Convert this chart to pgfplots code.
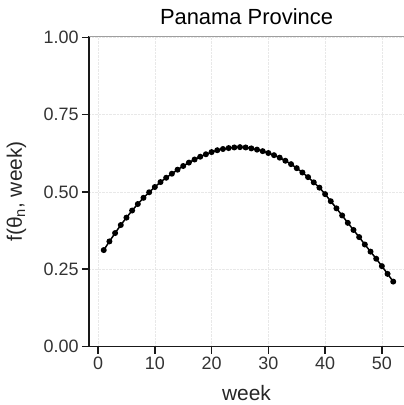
\documentclass[border=0pt]{standalone}
\usepackage{fontspec}
\setmainfont{Liberation Sans}
\usepackage{pgfplots}
\pgfplotsset{compat=1.18}
\begin{document}
\begin{tikzpicture}
\begin{axis}[
  at={(0,0)}, anchor=south west,
  scale only axis, width=315bp, height=310bp,
  xmin=-1.6, xmax=53.9, ymin=0, ymax=1.003,
  axis lines=left, axis line style={-, line width=1.8bp, black!90},
  xtick={0,10,...,50}, ytick={0,0.25,0.5,0.75,1},
  yticklabel style={/pgf/number format/.cd, fixed, fixed zerofill, precision=2},
  /pgf/number format/assume math mode=true,
  tick align=outside, major tick length=7bp,
  tick style={black!90, line width=1.6bp},
  grid=major, major grid style={densely dotted, gray!18, line width=0.6bp},
  ticklabel style={font=\fontsize{18}{21}\selectfont, text=black!80},
  xlabel={week}, ylabel={f(θ\textsubscript{n}, week)},
  label style={font=\fontsize{21}{24}\selectfont, text=black!85},
  xlabel style={at={(axis description cs:0.5,-0.1726)}, anchor=base},
  ylabel style={at={(axis description cs:-0.213,0.5)}, anchor=base},
  title={Panama Province},
  title style={font=\fontsize{22}{26}\selectfont, at={(axis description cs:0.5,1.019)}, anchor=base},
  clip=false,
]
\draw[gray!75, line width=1.4bp] (rel axis cs:0,1) -- (rel axis cs:1,1);
\addplot[black, line width=1.5bp, mark=*, mark size=2.2bp] table {
x y
1 0.312
2 0.340
3 0.367
4 0.393
5 0.417
6 0.440
7 0.461
8 0.481
9 0.499
10 0.516
11 0.532
12 0.546
13 0.559
14 0.572
15 0.584
16 0.595
17 0.605
18 0.614
19 0.622
20 0.629
21 0.635
22 0.639
23 0.642
24 0.644
25 0.645
26 0.644
27 0.641
28 0.637
29 0.632
30 0.626
31 0.619
32 0.611
33 0.601
34 0.590
35 0.577
36 0.563
37 0.548
38 0.531
39 0.514
40 0.493
41 0.470
42 0.447
43 0.424
44 0.400
45 0.377
46 0.354
47 0.330
48 0.307
49 0.284
50 0.260
51 0.235
52 0.210
};
\end{axis}
\pgfresetboundingbox
\path[use as bounding box] (-89bp,-58.5bp) rectangle (315bp,346.5bp);
\end{tikzpicture}
\end{document}
